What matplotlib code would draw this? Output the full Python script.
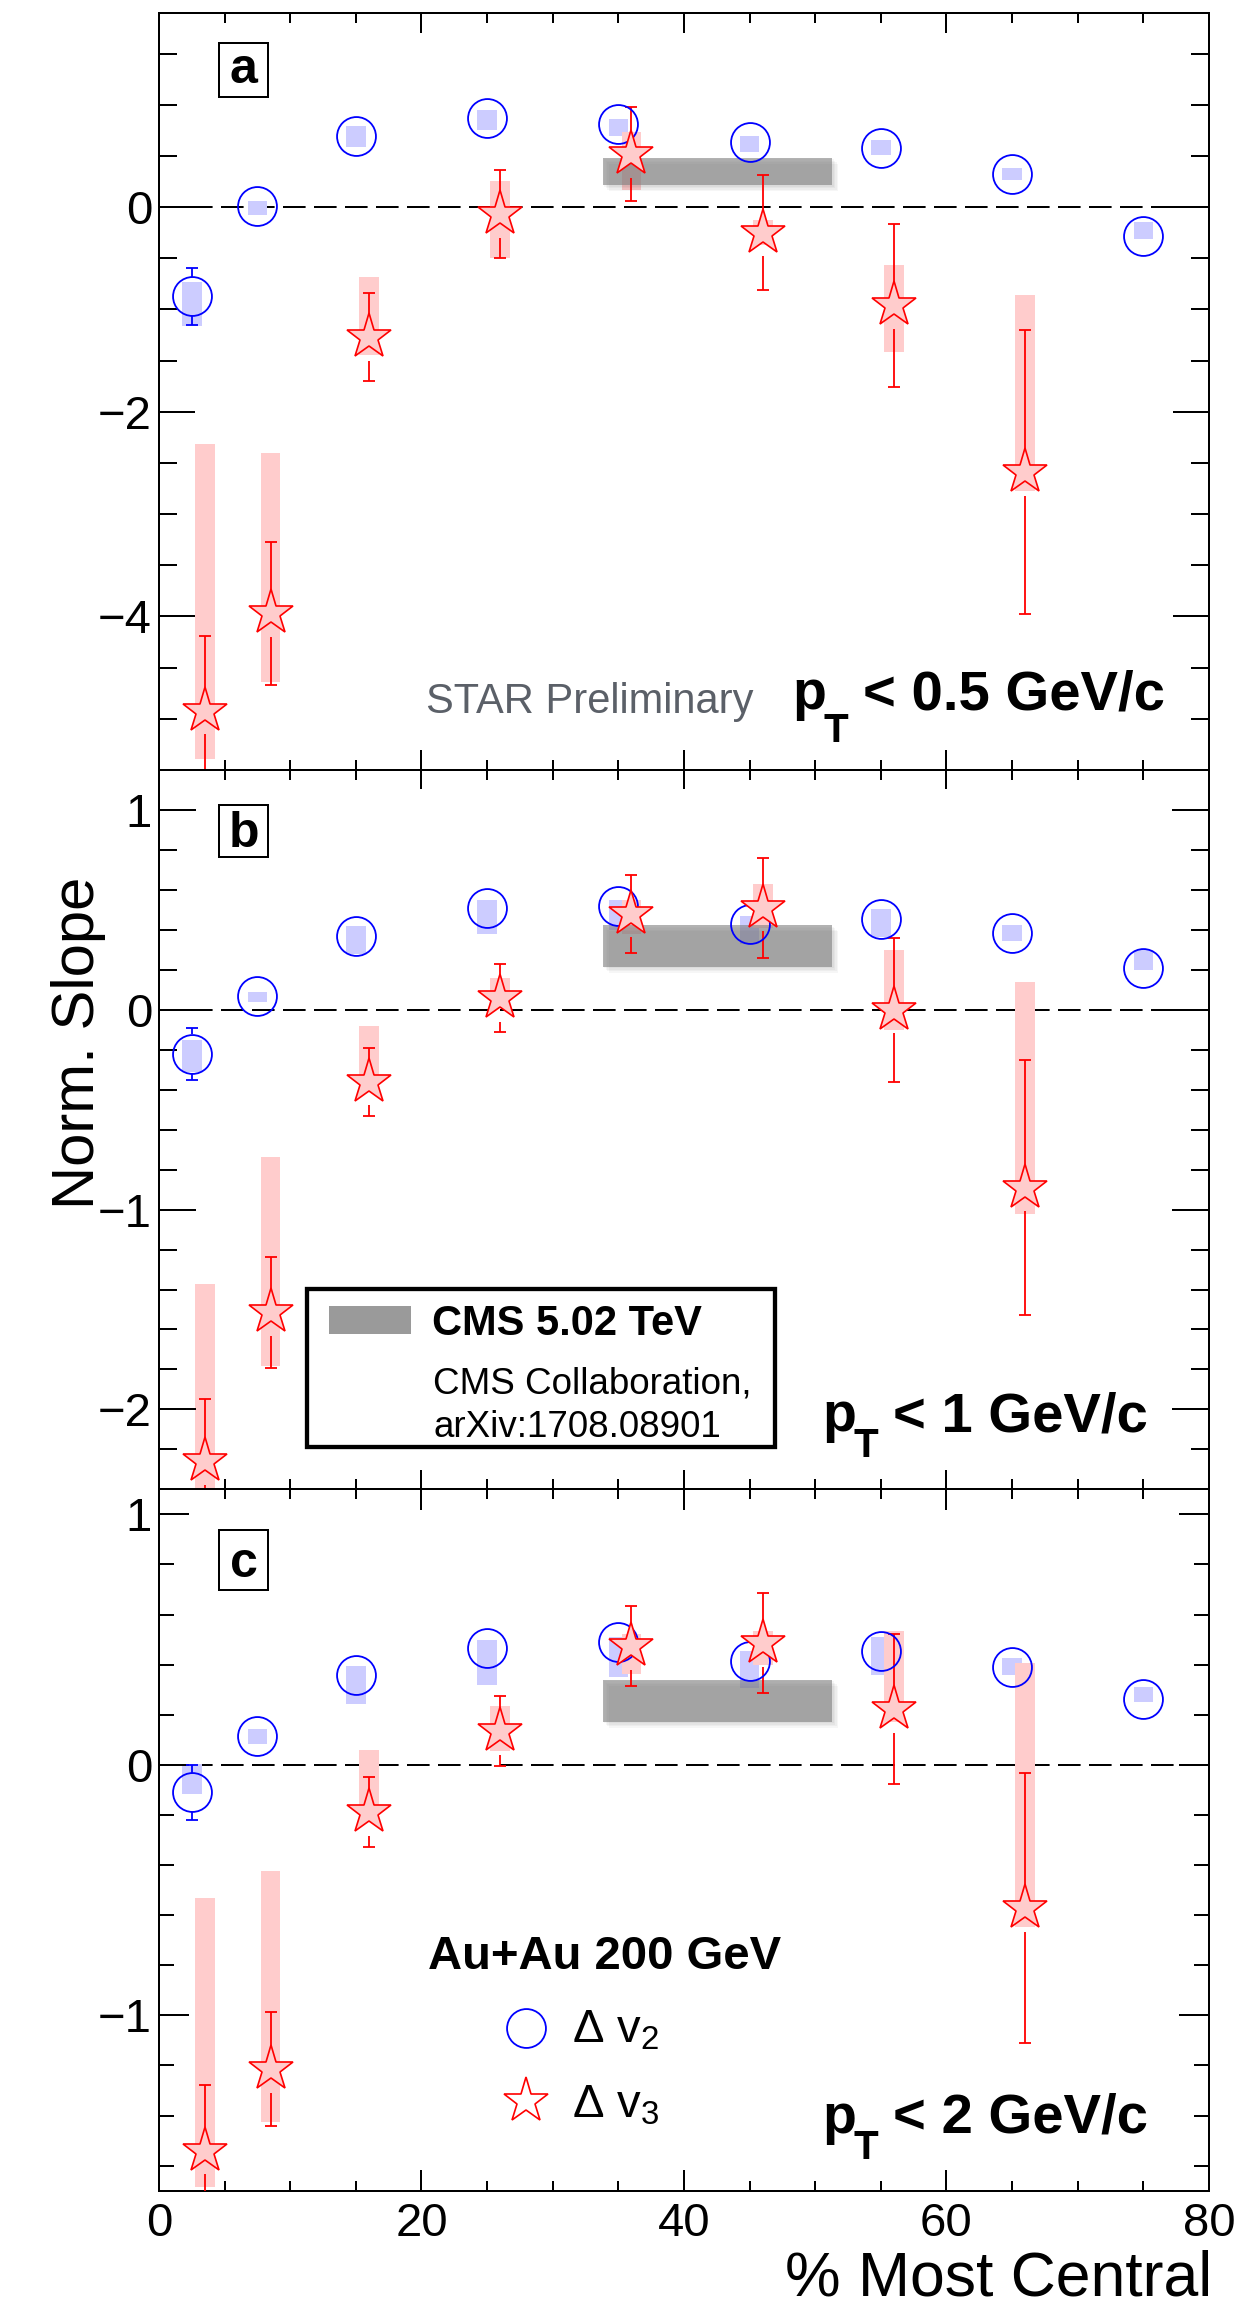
import numpy as np
import matplotlib
matplotlib.use("Agg")
import matplotlib.pyplot as plt
from matplotlib.patches import Rectangle
from matplotlib.ticker import MultipleLocator
from matplotlib.transforms import offset_copy

plt.rcParams['font.family'] = ['Liberation Sans', 'DejaVu Sans']
plt.rcParams['mathtext.fontset'] = 'custom'
plt.rcParams['mathtext.rm'] = 'Liberation Sans'
plt.rcParams['mathtext.it'] = 'Liberation Sans:italic'
plt.rcParams['mathtext.bf'] = 'Liberation Sans:bold'

DPI = 100

# centrality bins (% most central)
cent_v2 = np.array([2.5, 7.5, 15, 25, 35, 45, 55, 65, 75])
cent_v3 = np.array([3.5, 8.5, 16, 26, 36, 46, 56, 66])
cms_cent = np.array([33.8, 51.3])

# (a) pT < 0.5 GeV/c
v2_a = [-0.87, 0.01, 0.70, 0.87, 0.81, 0.64, 0.58, 0.32, -0.28]
v2_a_stat = [0.28, 0.12, 0.12, 0.12, 0.12, 0.12, 0.12, 0.12, 0.12]
v2_a_sys_lo = [0.29, 0.09, 0.11, 0.12, 0.11, 0.10, 0.07, 0.05, 0.03]
v2_a_sys_hi = [0.14, 0.05, 0.09, 0.08, 0.05, 0.06, 0.08, 0.06, 0.13]
v3_a = [-4.92, -3.97, -1.27, -0.07, 0.52, -0.25, -0.96, -2.59]
v3_a_stat = [0.73, 0.70, 0.43, 0.43, 0.46, 0.56, 0.80, 1.39]
v3_a_sys_lo = [0.47, 0.67, 0.17, 0.43, 0.35, 0.12, 0.46, 0.18]
v3_a_sys_hi = [2.61, 1.57, 0.59, 0.33, 0.21, 0.12, 0.39, 1.73]

# (b) pT < 1 GeV/c
v2_b = [-0.22, 0.07, 0.37, 0.51, 0.52, 0.43, 0.455, 0.385, 0.21]
v2_b_stat = [0.13, 0.08, 0.08, 0.08, 0.08, 0.08, 0.08, 0.08, 0.08]
v2_b_sys_lo = [0.09, 0.03, 0.09, 0.13, 0.12, 0.10, 0.09, 0.04, 0.01]
v2_b_sys_hi = [0.07, 0.02, 0.05, 0.04, 0.03, 0.04, 0.05, 0.04, 0.09]
v3_b = [-2.26, -1.515, -0.36, 0.057, 0.48, 0.51, 0.0, -0.89]
v3_b_stat = [0.31, 0.28, 0.17, 0.17, 0.195, 0.25, 0.36, 0.64]
v3_b_sys_lo = [0.30, 0.27, 0.04, 0.04, 0.10, 0.10, 0.10, 0.13]
v3_b_sys_hi = [0.89, 0.78, 0.28, 0.10, 0.07, 0.12, 0.30, 1.03]

# (c) pT < 2 GeV/c
v2_c = [-0.11, 0.114, 0.357, 0.467, 0.492, 0.414, 0.454, 0.389, 0.261]
v2_c_stat = [0.11, 0.06, 0.06, 0.06, 0.06, 0.06, 0.06, 0.06, 0.06]
v2_c_sys_lo = [0.005, 0.03, 0.113, 0.147, 0.14, 0.107, 0.094, 0.032, 0.011]
v2_c_sys_hi = [0.114, 0.031, 0.036, 0.033, 0.02, 0.042, 0.055, 0.036, 0.048]
v3_c = [-1.54, -1.215, -0.188, 0.134, 0.474, 0.485, 0.223, -0.572]
v3_c_stat = [0.26, 0.228, 0.138, 0.14, 0.16, 0.20, 0.30, 0.54]
v3_c_sys_lo = [0.146, 0.21, 0.007, 0.077, 0.11, 0.085, 0.05, 0.075]
v3_c_sys_hi = [1.008, 0.79, 0.249, 0.10, 0.05, 0.05, 0.31, 0.98]

# CMS 5.02 TeV band per panel
cms_lo = [0.214, 0.216, 0.172]
cms_hi = [0.484, 0.423, 0.34]

pt_cuts = ['0.5', '1', '2']

CIRCLE_MS = 28
STAR_MS = 34


def split_errorbars(ax, x, y, err, color, ms):
    # stat. error bars stop at the marker edge
    x = np.asarray(x, float)
    y = np.asarray(y, float)
    err = np.asarray(err, float)
    p0 = ax.transData.transform((0, 0))
    p1 = ax.transData.transform((0, 1))
    gap = (ms / 2 * DPI / 72) / (p1[1] - p0[1])
    m = err > gap
    kw = dict(color=color, lw=1.3, zorder=3)
    ax.vlines(x[m], (y + gap)[m], (y + err)[m], **kw)
    ax.vlines(x[m], (y - err)[m], (y - gap)[m], **kw)
    for yy in ((y + err)[m], (y - err)[m]):
        ax.plot(x[m], yy, ls='none', marker='_', ms=9, mew=1.3,
                color=color, zorder=3)


def draw_panel(ax, ylim, major, minor, ylen, xlen,
               v2, v2_stat, v2_lo, v2_hi, v3, v3_stat, v3_lo, v3_hi,
               band_lo, band_hi):
    ax.set_xlim(0, 80)
    ax.set_ylim(*ylim)

    v2 = np.asarray(v2)
    v3 = np.asarray(v3)

    # systematic boxes
    ax.bar(cent_v2, np.add(v2_lo, v2_hi), bottom=v2 - np.asarray(v2_lo),
           width=1.5, color='#ccccff', lw=0, zorder=1)
    ax.bar(cent_v3, np.add(v3_lo, v3_hi), bottom=v3 - np.asarray(v3_lo),
           width=1.5, color='#ffcccc', lw=0, zorder=1)

    # CMS band with a soft drop shadow
    for k in (1, 2, 3, 4):
        sh = offset_copy(ax.transData, fig=ax.figure, x=1.5 * k, y=-1.5 * k,
                         units='dots')
        ax.fill_between(cms_cent, [band_lo] * 2, [band_hi] * 2,
                        color='black', alpha=0.035, lw=0, zorder=1.4,
                        transform=sh)
    ax.fill_between(cms_cent, [band_lo] * 2, [band_hi] * 2,
                    color='#7f7f7f', alpha=0.6, lw=0, zorder=1.5)

    ax.axhline(0, color='black', lw=1.44, dashes=(11.3, 4.2), zorder=0.5)

    split_errorbars(ax, cent_v2, v2, v2_stat, 'blue', CIRCLE_MS)
    split_errorbars(ax, cent_v3, v3, v3_stat, 'red', STAR_MS)

    ax.plot(cent_v2, v2, ls='none', marker='o', ms=CIRCLE_MS, mfc='none',
            mec='blue', mew=1.3, zorder=4)
    ax.plot(cent_v3, v3, ls='none', marker='*', ms=STAR_MS, mfc='#ffcccc',
            mec='red', mew=1.2, zorder=5)

    ax.xaxis.set_major_locator(MultipleLocator(20))
    ax.xaxis.set_minor_locator(MultipleLocator(5))
    ax.yaxis.set_major_locator(MultipleLocator(major))
    ax.yaxis.set_minor_locator(MultipleLocator(minor))
    ax.tick_params(which='both', direction='in', top=True, right=True,
                   width=1.44, labelsize=34)
    ax.tick_params(axis='y', which='major', length=ylen, pad=5)
    ax.tick_params(axis='y', which='minor', length=ylen / 2)
    ax.tick_params(axis='x', which='major', length=xlen, pad=8)
    ax.tick_params(axis='x', which='minor', length=xlen / 2)
    for s in ax.spines.values():
        s.set_linewidth(1.44)


def panel_tag(ax, letter, box_y, box_h, base_y):
    ax.add_patch(Rectangle((0.0571, box_y), 0.047, box_h,
                           transform=ax.transAxes, fc='white', ec='black',
                           lw=1.44, zorder=6))
    ax.text(0.0807, base_y, letter, transform=ax.transAxes, ha='center',
            va='baseline', fontsize=36, fontweight='bold', zorder=7)


def pt_label(ax, cut, x_p, x_t, x_rest, y_base, y_sub):
    # ROOT-style p_T with a large, low subscript
    kw = dict(transform=ax.transAxes, va='baseline', ha='left',
              fontweight='bold', zorder=7)
    ax.text(x_p, y_base, 'p', fontsize=40, **kw)
    ax.text(x_t, y_sub, 'T', fontsize=29, **kw)
    ax.text(x_rest, y_base, '< ' + cut + ' GeV/c', fontsize=40.5, **kw)


fig = plt.figure(figsize=(12.6, 23.05), dpi=DPI)
ax_a = fig.add_axes([0.12619, 0.66594, 0.83333, 0.32855])
ax_b = fig.add_axes([0.12619, 0.35388, 0.83333, 0.31206])
ax_c = fig.add_axes([0.12619, 0.04959, 0.83333, 0.30430])

draw_panel(ax_a, (-5.5, 1.9), 2, 0.5, 26, 14.4,
           v2_a, v2_a_stat, v2_a_sys_lo, v2_a_sys_hi,
           v3_a, v3_a_stat, v3_a_sys_lo, v3_a_sys_hi, cms_lo[0], cms_hi[0])
draw_panel(ax_b, (-2.4, 1.2), 1, 0.2, 26.6, 14,
           v2_b, v2_b_stat, v2_b_sys_lo, v2_b_sys_hi,
           v3_b, v3_b_stat, v3_b_sys_lo, v3_b_sys_hi, cms_lo[1], cms_hi[1])
draw_panel(ax_c, (-1.7, 1.1), 1, 0.2, 21.6, 15,
           v2_c, v2_c_stat, v2_c_sys_lo, v2_c_sys_hi,
           v3_c, v3_c_stat, v3_c_sys_lo, v3_c_sys_hi, cms_lo[2], cms_hi[2])

ax_a.tick_params(axis='x', labelbottom=False)
ax_b.tick_params(axis='x', labelbottom=False)

panel_tag(ax_a, 'a', 0.8883, 0.0721, 0.9076)
panel_tag(ax_b, 'b', 0.8795, 0.0719, 0.8934)
panel_tag(ax_c, 'c', 0.8564, 0.0855, 0.8754)

pt_label(ax_a, pt_cuts[0], 0.6035, 0.6333, 0.6705, 0.0805, 0.037)
pt_label(ax_b, pt_cuts[1], 0.6322, 0.6619, 0.6990, 0.0810, 0.0449)
pt_label(ax_c, pt_cuts[2], 0.6322, 0.6619, 0.6990, 0.0827, 0.0456)

ax_a.text(0.2542, 0.0753, 'STAR Preliminary', transform=ax_a.transAxes,
          ha='left', va='baseline', fontsize=30, color='#5b6068')

# CMS legend box in panel b
ax_b.add_patch(Rectangle((0.1412, 0.0584), 0.4451, 0.2196,
                         transform=ax_b.transAxes, fc='white', ec='black',
                         lw=3.1, zorder=6))
ax_b.add_patch(Rectangle((0.1619, 0.2163), 0.0781, 0.0385,
                         transform=ax_b.transAxes, fc='#9a9a9a', lw=0,
                         zorder=7))
ax_b.text(0.2597, 0.2145, 'CMS 5.02 TeV', transform=ax_b.transAxes,
          ha='left', va='baseline', fontsize=30, fontweight='bold', zorder=7)
ax_b.text(0.261, 0.1335, 'CMS Collaboration,', transform=ax_b.transAxes,
          ha='left', va='baseline', fontsize=26.5, zorder=7)
ax_b.text(0.261, 0.0723, 'arXiv:1708.08901', transform=ax_b.transAxes,
          ha='left', va='baseline', fontsize=26.5, zorder=7)

# marker legend in panel c
ax_c.text(0.2562, 0.3157, 'Au+Au 200 GeV', transform=ax_c.transAxes,
          ha='left', va='baseline', fontsize=34, fontweight='bold', zorder=7)
ax_c.plot([0.3499], [0.2317], transform=ax_c.transAxes, ls='none',
          marker='o', ms=CIRCLE_MS, mfc='none', mec='blue', mew=1.3,
          zorder=7)
ax_c.plot([0.3499], [0.128], transform=ax_c.transAxes, ls='none',
          marker='*', ms=STAR_MS, mfc='white', mec='red', mew=1.2, zorder=7)
ax_c.text(0.3938, 0.2106, r'$\Delta\ \mathrm{v}_{2}$', transform=ax_c.transAxes,
          ha='left', va='baseline', fontsize=34, zorder=7)
ax_c.text(0.3938, 0.104, r'$\Delta\ \mathrm{v}_{3}$', transform=ax_c.transAxes,
          ha='left', va='baseline', fontsize=34, zorder=7)

fig.text(0.062, 0.5475, 'Norm. Slope', rotation=90, ha='center',
         va='center', fontsize=43)
fig.text(0.9617, 0.0040, '% Most Central', ha='right', va='baseline',
         fontsize=45)

fig.savefig('out.png', dpi=DPI)
plt.close(fig)
